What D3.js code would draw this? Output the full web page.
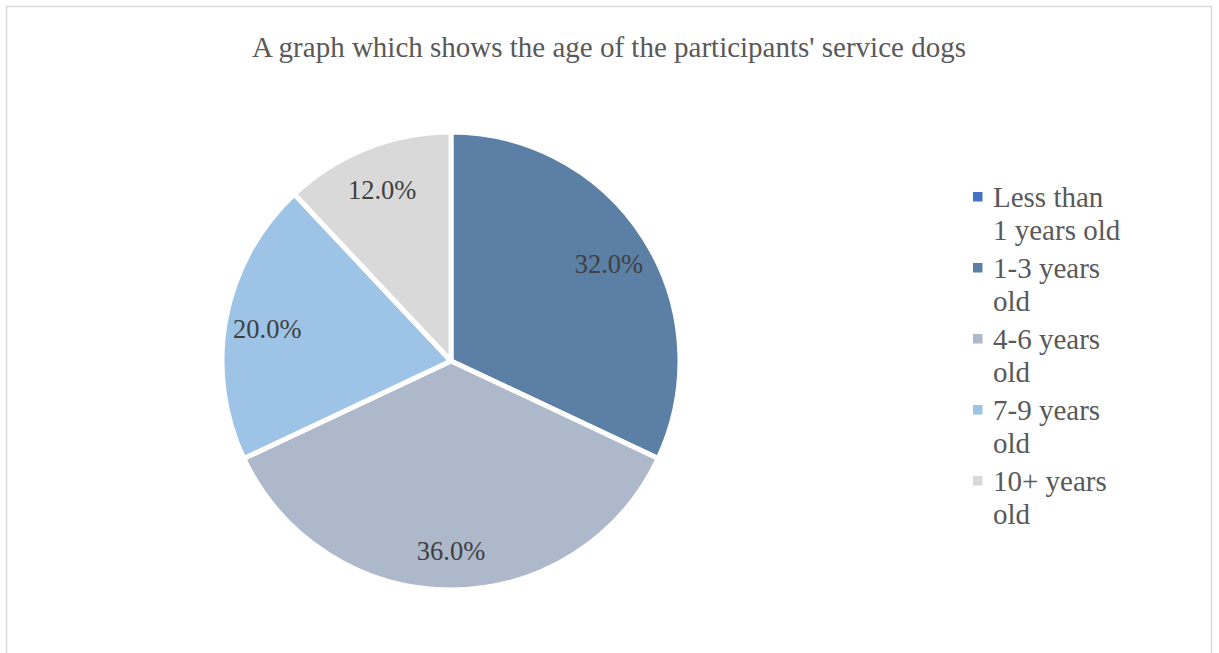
<!DOCTYPE html>
<html>
<head>
<meta charset="utf-8">
<script src="https://cdn.jsdelivr.net/npm/d3@7"></script>
<style>
  body { margin: 0; background: #fff; }
  svg { display: block; font-family: "Liberation Serif", "Times New Roman", serif; }
</style>
</head>
<body>
<div id="vis"></div>
<script>
// data
var categories = ['Less than 1 years old', '1-3 years old', '4-6 years old', '7-9 years old', '10+ years old'];
var shares = [0, 32, 36, 20, 12];
var colors = ['#4472c4', '#5b7fa5', '#adb9cb', '#9dc3e6', '#d9d9d9'];
var title = "A graph which shows the age of the participants' service dogs";

var width = 1219;
var height = 653;
var center = { x: 451, y: 361 };
var radius = 229;
var labelRadius = 187;

var svg = d3.select('#vis')
  .append('svg')
  .attr('width', width)
  .attr('height', height);

// chart frame
svg.append('rect')
  .attr('x', 6.5)
  .attr('y', 6.5)
  .attr('width', 1205)
  .attr('height', 660)
  .attr('fill', '#fff')
  .attr('stroke', '#d9d9d9')
  .attr('stroke-width', 1.5);

svg.append('text')
  .attr('x', 609)
  .attr('y', 57)
  .attr('text-anchor', 'middle')
  .attr('font-size', 29)
  .attr('fill', '#595959')
  .text(title);

var nodes = categories.map(function (c, i) {
  return { name: c, value: shares[i], color: colors[i] };
});

var pie = d3.pie()
  .sort(null)
  .value(function (d) { return d.value; });

var arc = d3.arc().innerRadius(0).outerRadius(radius);
var labelArc = d3.arc().innerRadius(labelRadius).outerRadius(labelRadius);

var g = svg.append('g')
  .attr('transform', 'translate(' + center.x + ',' + center.y + ')');

var arcs = pie(nodes).filter(function (d) { return d.data.value > 0; });

g.selectAll('.slice')
  .data(arcs)
  .enter()
  .append('path')
  .attr('class', 'slice')
  .attr('d', arc)
  .attr('fill', function (d) { return d.data.color; })
  .attr('stroke', '#fff')
  .attr('stroke-width', 5)
  .attr('stroke-linejoin', 'round');

g.selectAll('.label')
  .data(arcs)
  .enter()
  .append('text')
  .attr('class', 'label')
  .attr('transform', function (d) { return 'translate(' + labelArc.centroid(d) + ')'; })
  .attr('text-anchor', 'middle')
  .attr('dy', '0.45em')
  .attr('font-size', 26.5)
  .attr('fill', '#404040')
  .text(function (d) { return d3.format('.1f')(d.data.value) + '%'; });

// legend
var legendX = 973;
var legendY = 207; // baseline of first line
var itemGap = 71;
var lineGap = 32.5;
var maxWidth = 128;

var legend = svg.append('g').attr('class', 'legend');

nodes.forEach(function (d, i) {
  var y = legendY + i * itemGap;
  legend.append('rect')
    .attr('x', legendX)
    .attr('y', y - 15)
    .attr('width', 9.5)
    .attr('height', 9.5)
    .attr('fill', d.color);

  var text = legend.append('text')
    .attr('x', legendX + 20)
    .attr('y', y)
    .attr('font-size', 29)
    .attr('fill', '#595959');

  // wrap words to fit the legend column
  var words = d.name.split(' ');
  var line = [];
  var tspan = text.append('tspan').attr('x', legendX + 20).attr('dy', 0);
  words.forEach(function (w) {
    line.push(w);
    tspan.text(line.join(' '));
    if (tspan.node().getComputedTextLength() > maxWidth && line.length > 1) {
      line.pop();
      tspan.text(line.join(' '));
      line = [w];
      tspan = text.append('tspan')
        .attr('x', legendX + 20)
        .attr('dy', lineGap)
        .text(w);
    }
  });
});
</script>
</body>
</html>
